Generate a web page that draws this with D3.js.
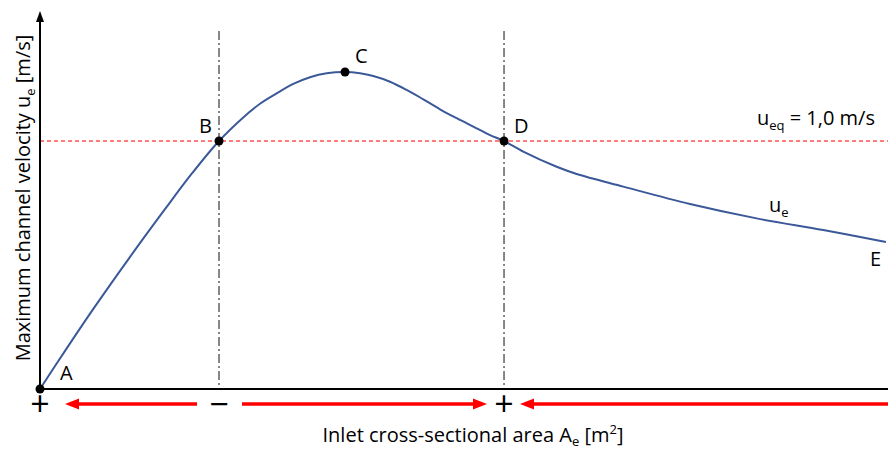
<!DOCTYPE html>
<html>
<head>
<meta charset="utf-8">
<script src="https://cdn.jsdelivr.net/npm/d3@7"></script>
<style>
  html, body { margin: 0; padding: 0; background: #fff; }
  svg { display: block; }
  text { font-family: "Open Sans", "Liberation Sans", sans-serif; fill: #000; }
</style>
</head>
<body>
<svg id="chart" width="888" height="449"></svg>
<script>
// Inlet cross-sectional area (relative units) along the curve
const areaValues = [0, 0.317, 0.633, 1.056, 1.478, 1.794, 2.111,
  2.397, 2.594, 2.791, 2.987, 3.184, 3.381, 3.597,
  3.774, 3.930, 4.127, 4.324, 4.520, 4.717, 4.914, 5.110, 5.307, 5.472,
  5.699, 6.093, 6.329, 6.879, 7.665, 8.451, 9.237, 9.976];
// Maximum channel velocity u_e (m/s) at each area
const velocityValues = [0, 0.165, 0.325, 0.530, 0.727, 0.870, 1.0,
  1.095, 1.150, 1.192, 1.230, 1.257, 1.273, 1.278,
  1.273, 1.262, 1.239, 1.206, 1.168, 1.128, 1.092, 1.058, 1.024, 1.0,
  0.957, 0.896, 0.867, 0.816, 0.746, 0.688, 0.641, 0.593];

// Named points on the curve
const pointNames = ["A", "B", "C", "D", "E"];
const pointIndex = [0, 6, 13, 23, 31];
const markedPoints = ["A", "B", "C", "D"];

// Equilibrium velocity
const uEq = 1.0;
// Stability signs at A, B and D along the area axis
const signLabels = ["+", "\u2212", "+"];
const signPoints = ["A", "B", "D"];

const svg = d3.select("#chart");
const x = d3.scaleLinear().domain([0, 10]).range([40, 888]);
const y = d3.scaleLinear().domain([0, 1.5]).range([389, 17]);

const pts = areaValues.map((a, i) => ({ a, v: velocityValues[i] }));
const named = {};
pointNames.forEach((n, i) => named[n] = pts[pointIndex[i]]);

// Equilibrium velocity reference line
svg.append("line")
  .attr("x1", x(0)).attr("x2", x(10))
  .attr("y1", y(uEq)).attr("y2", y(uEq))
  .attr("stroke", "#ff5050").attr("stroke-width", 1.6)
  .attr("stroke-dasharray", "4,3");

// Vertical dash-dot lines through B and D
["B", "D"].forEach(n => {
  svg.append("line")
    .attr("x1", x(named[n].a)).attr("x2", x(named[n].a))
    .attr("y1", 31).attr("y2", y(0))
    .attr("stroke", "#555").attr("stroke-width", 1.4)
    .attr("stroke-dasharray", "9,3,2,3");
});

// Axes
svg.append("line")
  .attr("x1", x(0)).attr("x2", x(10)).attr("y1", y(0)).attr("y2", y(0))
  .attr("stroke", "#000").attr("stroke-width", 2);
svg.append("line")
  .attr("x1", x(0)).attr("x2", x(0)).attr("y1", y(0)).attr("y2", 20)
  .attr("stroke", "#000").attr("stroke-width", 2);
svg.append("path")
  .attr("d", `M${x(0)},11 L${x(0) - 4},22 L${x(0) + 4},22 Z`)
  .attr("fill", "#000");

// Velocity curve
const line = d3.line().x(d => x(d.a)).y(d => y(d.v)).curve(d3.curveCatmullRom.alpha(0.5));
svg.append("path")
  .datum(pts)
  .attr("d", line)
  .attr("fill", "none")
  .attr("stroke", "#3b5998").attr("stroke-width", 2);

// Point markers
svg.selectAll("circle.pt")
  .data(markedPoints)
  .join("circle")
  .attr("class", "pt")
  .attr("cx", n => x(named[n].a))
  .attr("cy", n => y(named[n].v))
  .attr("r", 4.5)
  .attr("fill", "#000");

// Point labels
const labelOffset = { A: [20, -9], B: [-20, -8], C: [10, -9], D: [10, -8], E: [-16, 24] };
pointNames.forEach(n => {
  svg.append("text")
    .attr("x", x(named[n].a) + labelOffset[n][0])
    .attr("y", y(named[n].v) + labelOffset[n][1])
    .attr("font-size", 20)
    .text(n);
});

// Curve label u_e
const ueLabel = svg.append("text").attr("x", 769).attr("y", 212).attr("font-size", 20);
ueLabel.append("tspan").text("u");
ueLabel.append("tspan").attr("font-size", 13).attr("dy", 5).text("e");

// Equilibrium label
const eqLabel = svg.append("text").attr("x", 757).attr("y", y(uEq) - 16).attr("font-size", 20);
eqLabel.append("tspan").text("u");
eqLabel.append("tspan").attr("font-size", 13).attr("dy", 5).text("eq");
eqLabel.append("tspan").attr("dy", -5).text(" = 1,0 m/s");

// Stability signs under the area axis
signPoints.forEach((n, i) => {
  svg.append("text")
    .attr("x", x(named[n].a))
    .attr("y", 416)
    .attr("text-anchor", "middle")
    .attr("font-size", 34)
    .text(signLabels[i]);
});

// Red direction arrows
const arrowY = 404;
function arrow(x1, x2) {
  const dir = Math.sign(x2 - x1);
  const head = 14;
  svg.append("line")
    .attr("x1", x1).attr("x2", x2 - dir * head + dir * 1)
    .attr("y1", arrowY).attr("y2", arrowY)
    .attr("stroke", "#ff0000").attr("stroke-width", 3.5);
  svg.append("path")
    .attr("d", `M${x2},${arrowY} L${x2 - dir * head},${arrowY - 5.5} L${x2 - dir * head},${arrowY + 5.5} Z`)
    .attr("fill", "#ff0000");
}
arrow(x(named.B.a) - 22, x(named.A.a) + 25);
arrow(x(named.B.a) + 23, x(named.D.a) - 17);
arrow(888, x(named.D.a) + 16);

// Axis titles
const xTitle = svg.append("text")
  .attr("x", 473).attr("y", 442)
  .attr("text-anchor", "middle")
  .attr("font-size", 20);
xTitle.append("tspan").text("Inlet cross-sectional area A");
xTitle.append("tspan").attr("font-size", 13).attr("dy", 4).text("e");
xTitle.append("tspan").attr("dy", -4).text(" [m");
xTitle.append("tspan").attr("font-size", 13).attr("dy", -8).text("2");
xTitle.append("tspan").attr("dy", 8).text("]");

const yTitle = svg.append("text")
  .attr("transform", "translate(30,198) rotate(-90)")
  .attr("text-anchor", "middle")
  .attr("font-size", 20);
yTitle.append("tspan").text("Maximum channel velocity u");
yTitle.append("tspan").attr("font-size", 13).attr("dy", 5).text("e");
yTitle.append("tspan").attr("dy", -5).text(" [m/s]");
</script>
</body>
</html>
